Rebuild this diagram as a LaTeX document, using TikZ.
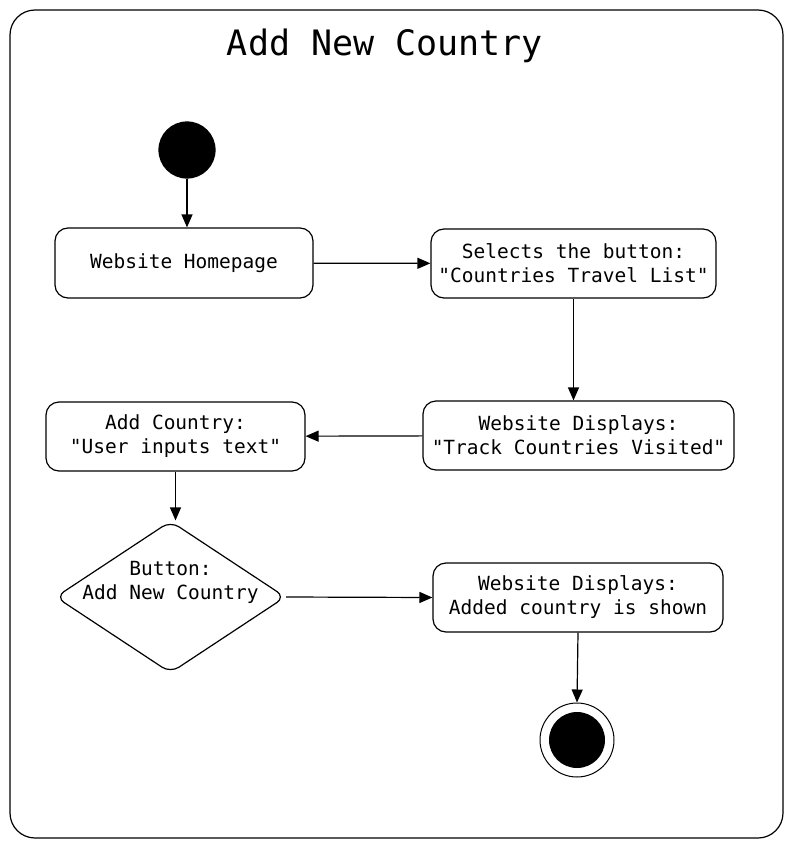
\documentclass[tikz,border=0pt]{standalone}
\usepackage{fontspec}
\newfontfamily\monof{DejaVu Sans Mono}
\usetikzlibrary{shapes.geometric,arrows.meta}
\begin{document}
\begin{tikzpicture}[x=1pt,y=-1pt,
  every node/.style={font=\monof\fontsize{19.5}{24}\selectfont, align=center, line width=1.2pt},
  actbox/.style={draw, rounded corners=13pt, inner sep=0pt},
  flow/.style={draw, line width=1.2pt, -{Triangle[length=13pt,width=11pt]}},
  decide/.style={draw, diamond, rounded corners=10pt, inner sep=0pt}]
\useasboundingbox (0,0) rectangle (793,848);
\node[draw, line width=1.2pt, rounded corners=25pt, minimum width=773pt, minimum height=828pt] (frame) at (396.5,424) {};
\node[font=\monof\fontsize{35}{42}\selectfont] (title) at (385,46) {Add New Country};
\node[circle, fill=black, draw, minimum size=56pt, inner sep=0pt] (start) at (187,150) {};
\node[actbox, minimum width=258pt, minimum height=70pt] (home) at (184,263) {Website Homepage};
\node[actbox, minimum width=285pt, minimum height=69pt] (sel) at (573.5,263.5) {Selects the button:\\"Countries Travel List"};
\node[actbox, minimum width=311pt, minimum height=69pt] (track) at (578.5,435.5) {Website Displays:\\"Track Countries Visited"};
\node[actbox, minimum width=259pt, minimum height=69pt] (addc) at (175.5,436.5) {Add Country:\\"User inputs text"};
\node[decide, minimum width=230pt, minimum height=152pt] (dia) at (170.5,597) {};
\node (diatext) at (170.5,582) {Button:\\Add New Country};
\node[actbox, minimum width=290pt, minimum height=69pt] (added) at (578,597.5) {Website Displays:\\Added country is shown};
\node[circle, draw, line width=1pt, minimum size=74pt, inner sep=0pt] (endo) at (577,740) {};
\node[circle, fill=black, minimum size=56pt, inner sep=0pt] (endi) at (577,740) {};
\draw[flow] (start) -- (start |- home.north);
\draw[flow] (home) -- (sel);
\draw[flow] (sel.south) -- (sel.south |- track.north);
\draw[flow] (track) -- (addc);
\draw[flow] (addc.south) -- (addc.south |- dia.north);
\draw[flow] (dia.east) -- (added.west);
\draw[flow] (added.south) -- (endo.north);
\end{tikzpicture}
\end{document}
